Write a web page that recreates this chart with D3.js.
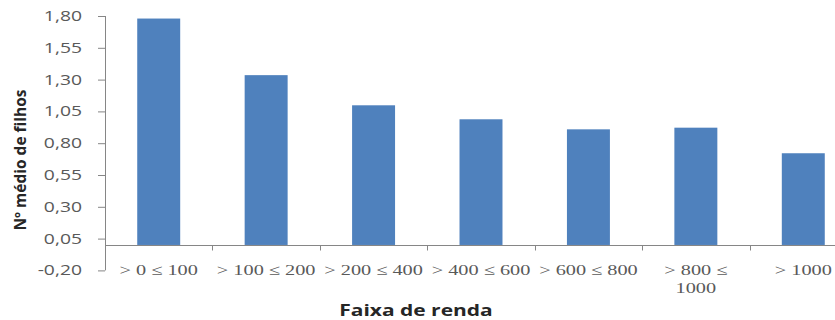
<!DOCTYPE html>
<html>
<head>
<meta charset="utf-8">
<script src="https://cdn.jsdelivr.net/npm/d3@7"></script>
<style>
  html, body { margin: 0; padding: 0; background: #fff; }
  svg { display: block; }
</style>
</head>
<body>
<svg id="chart" width="835" height="320"></svg>
<script>
const categories = ["> 0 ≤ 100", "> 100 ≤ 200", "> 200 ≤ 400", "> 400 ≤ 600", "> 600 ≤ 800", "> 800 ≤ 1000", "> 1000"];
const categoryLines = [["> 0 ≤ 100"], ["> 100 ≤ 200"], ["> 200 ≤ 400"], ["> 400 ≤ 600"], ["> 600 ≤ 800"], ["> 800 ≤", "1000"], ["> 1000"]];
const values = [1.78, 1.335, 1.098, 0.988, 0.909, 0.922, 0.721];
const yTicks = [-0.20, 0.05, 0.30, 0.55, 0.80, 1.05, 1.30, 1.55, 1.80];
const xTitle = "Faixa de renda";
const yTitle = "Nº médio de filhos";

const svg = d3.select("#chart");
const plotLeft = 105, plotRight = 857, plotTop = 16, plotBottom = 270.4;
const stretch = 1.38; // the reference text is horizontally stretched

const x = d3.scaleBand().domain(categories).range([plotLeft, plotRight]).paddingInner(0.6).paddingOuter(0.3);
const y = d3.scaleLinear().domain([-0.2, 1.8]).range([plotBottom, plotTop]);

const axisColor = "#868686";
const labelColor = "#595959";

// Bars
svg.append("g").selectAll("rect").data(values).join("rect")
  .attr("x", (d, i) => x(categories[i]))
  .attr("width", x.bandwidth())
  .attr("y", d => y(d))
  .attr("height", d => y(0) - y(d))
  .attr("fill", "#4F81BD");

// Y axis
const fmt = v => d3.format(".2f")(v).replace(".", ",").replace("−", "-");
const yAxis = d3.axisLeft(y).tickValues(yTicks).tickFormat(fmt).tickSize(7).tickPadding(15);
const gy = svg.append("g").attr("transform", `translate(${plotLeft},0)`).call(yAxis);
gy.select(".domain").attr("stroke", axisColor).attr("d", `M0.5,${plotTop}V${plotBottom}`);
gy.selectAll(".tick line").attr("stroke", axisColor);
gy.selectAll(".tick text")
  .attr("x", null)
  .attr("transform", `translate(-23,0) scale(${stretch},1)`)
  .attr("fill", labelColor)
  .style("font-family", "'Open Sans', 'Liberation Sans', sans-serif").style("font-size", "14px");

// X axis line at zero
const gx = svg.append("g").attr("transform", `translate(0,${Math.round(y(0)) + 0.5})`);
gx.append("line").attr("x1", plotLeft).attr("x2", plotRight).attr("stroke", axisColor);
const step = x.step();
gx.selectAll("line.tk").data(d3.range(1, categories.length)).join("line")
  .attr("class", "tk")
  .attr("x1", i => Math.round(x(categories[i]) - (step - x.bandwidth()) / 2) + 0.5)
  .attr("x2", i => Math.round(x(categories[i]) - (step - x.bandwidth()) / 2) + 0.5)
  .attr("y1", 0).attr("y2", 5).attr("stroke", axisColor);

// X category labels
const xl = svg.append("g");
categoryLines.forEach((lines, i) => {
  const cx = x(categories[i]) + x.bandwidth() / 2;
  const t = xl.append("text").attr("text-anchor", "middle").attr("fill", labelColor)
    .attr("transform", `translate(${cx},0) scale(${stretch * 0.98},1)`)
    .style("font-family", "'Liberation Serif', 'DejaVu Serif', serif").style("font-size", "15px");
  lines.forEach((ln, j) => {
    t.append("tspan").attr("x", 0).attr("y", 275 + j * 18).text(ln);
  });
});

// Titles
svg.append("text").attr("transform", `translate(416,316) scale(1.31,1)`).attr("text-anchor", "middle")
  .attr("fill", "#262626").style("font-family", "'Open Sans', 'Liberation Sans', sans-serif")
  .style("font-size", "16px").style("font-weight", "bold").text(xTitle);
svg.append("text").attr("transform", "translate(26,160) rotate(-90)").attr("text-anchor", "middle")
  .attr("fill", "#262626").style("font-family", "'Open Sans', 'Liberation Sans', sans-serif")
  .style("font-size", "15.5px").style("font-weight", "bold").text(yTitle);
</script>
</body>
</html>
